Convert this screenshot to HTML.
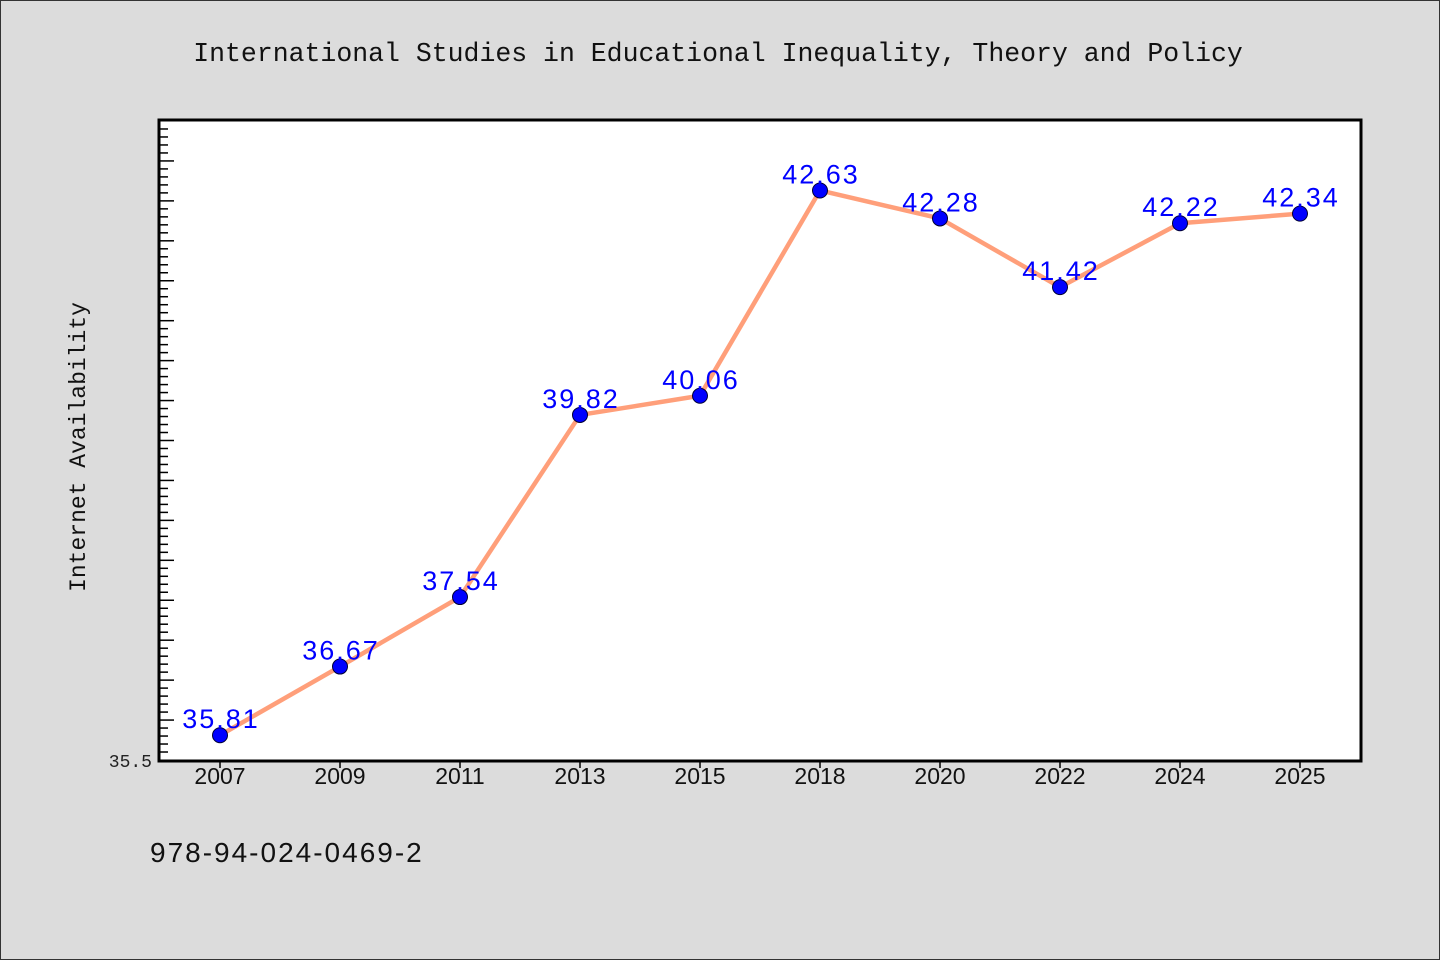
<!DOCTYPE html>
<html><head><meta charset="utf-8"><style>
html,body{margin:0;padding:0;background:#dcdcdc;}
svg{display:block;}
</style></head><body>
<svg width="1440" height="960" xmlns="http://www.w3.org/2000/svg">
<rect x="0.5" y="0.5" width="1439" height="959" fill="#dcdcdc" stroke="#333"/>
<text x="718" y="61" text-anchor="middle" font-family="Liberation Mono, monospace" font-size="26.5" fill="#111">International Studies in Educational Inequality, Theory and Policy</text>
<rect x="159" y="120" width="1202" height="641" fill="#fff" stroke="#000" stroke-width="3"/>
<g id="yticks"></g>
<text transform="translate(85,447) rotate(-90)" text-anchor="middle" font-family="Liberation Mono, monospace" font-size="23" fill="#111">Internet Availability</text>
<text x="152" y="767" text-anchor="end" font-family="Liberation Mono, monospace" font-size="18" fill="#222">35.5</text>
<g id="xlabels"></g>
<g id="series"></g>
<text x="150" y="862" font-family="Liberation Sans, sans-serif" font-size="28" letter-spacing="2" fill="#111">978-94-024-0469-2</text>
</svg>
<script>
const categories=["2007","2009","2011","2013","2015","2018","2020","2022","2024","2025"];
const values=[35.81,36.67,37.54,39.82,40.06,42.63,42.28,41.42,42.22,42.34];
const yMin=35.5, yMax=43.5125;
const NS="http://www.w3.org/2000/svg";
const L=160,R=1360,T=120,B=760;
const band=(R-L)/categories.length;
const xs=i=>L+band*(i+0.5);
const ys=v=>B-(v-yMin)/(yMax-yMin)*(B-T);
function mk(t,a,p){const e=document.createElementNS(NS,t);for(const k in a)e.setAttribute(k,a[k]);p.appendChild(e);return e;}
const yt=document.getElementById('yticks');
for(let k=1;;k++){const v=yMin+k*0.1;const y=ys(v);if(y<T+2)break;const major=k%5===0;
const t=mk('line',{x1:160,x2:major?174:168,y1:y,y2:y,stroke:'#000','stroke-width':1.5},yt);

}
const xl=document.getElementById('xlabels');
categories.forEach((c,i)=>{
const l=mk('line',{x1:xs(i),x2:xs(i),y1:761,y2:768,stroke:'#000','stroke-width':1.5},xl);


const t=mk('text',{x:xs(i),y:784,'text-anchor':'middle','font-family':'Liberation Sans, sans-serif','font-size':23,fill:'#111'},xl);
t.textContent=c;

});
const s=document.getElementById('series');
const pl=mk('polyline',{points:values.map((v,i)=>xs(i)+','+ys(v)).join(' '),fill:'none',stroke:'#ff9f7a','stroke-width':4.5,'stroke-linejoin':'round'},s);


values.forEach((v,i)=>{
const c=mk('circle',{cx:xs(i),cy:ys(v),r:7.5,fill:'#0000ff',stroke:'#000033','stroke-width':1},s);


const t=mk('text',{x:xs(i)+1,y:ys(v)-7,'text-anchor':'middle','font-family':'Liberation Sans, sans-serif','font-size':27,'letter-spacing':2,fill:'#0000ff'},s);
t.textContent=v.toFixed(2);

});
</script>
</body></html>
